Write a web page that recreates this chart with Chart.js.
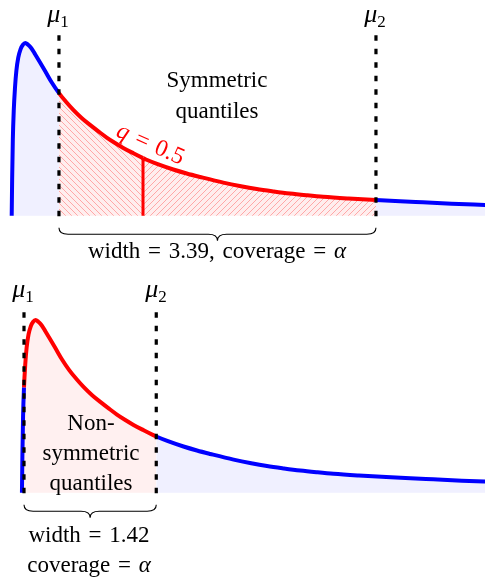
<!DOCTYPE html>
<html>
<head>
<meta charset="utf-8">
<script src="https://cdn.jsdelivr.net/npm/chart.js@4.4.1/dist/chart.umd.min.js"></script>
<style>
  body { margin: 0; width: 485px; height: 577px; background: #fff; position: relative; overflow: hidden;
         font-family: "Liberation Serif", "Times New Roman", serif; }
  canvas { position: absolute; left: 0; }
  .t { position: absolute; font-size: 23px; line-height: 1; color: #000; white-space: nowrap;
       transform: translate(-50%, -50%); }
  .t i { font-style: italic; }
  .mu { font-size: 26px; }
  .mu sub { font-size: 17px; vertical-align: -5px; line-height: 0; font-style: normal; }
  .eq { word-spacing: 2px; }
  .red { color: #f00; font-size: 24px; }
</style>
</head>
<body>
<canvas id="chartSym" width="485" height="272" style="top:0"></canvas>
<canvas id="chartAsym" width="485" height="305" style="top:272px"></canvas>

<div class="t mu" style="left:58px;top:14px"><i>μ</i><sub>1</sub></div>
<div class="t mu" style="left:375px;top:14px"><i>μ</i><sub>2</sub></div>
<div class="t" style="left:217px;top:79px">Symmetric</div>
<div class="t" style="left:217px;top:110px">quantiles</div>
<div class="t red eq" style="left:151px;top:143px;transform:translate(-50%,-50%) rotate(24deg)"><i>q</i> = 0.5</div>
<div class="t eq" id="symLabel" style="left:217px;top:250px"></div>

<div class="t mu" style="left:23px;top:289px"><i>μ</i><sub>1</sub></div>
<div class="t mu" style="left:156px;top:289px"><i>μ</i><sub>2</sub></div>
<div class="t" style="left:91px;top:422px">Non-</div>
<div class="t" style="left:91px;top:452px">symmetric</div>
<div class="t" style="left:91px;top:482px">quantiles</div>
<div class="t eq" id="asymLabel1" style="left:89px;top:534px"></div>
<div class="t eq" id="asymLabel2" style="left:89px;top:564px"></div>

<script>
// density curve (x in interval-width units, peak = 1)
const xs = [0, 0.005, 0.012, 0.022, 0.035, 0.05, 0.07, 0.095, 0.12, 0.145, 0.175, 0.21, 0.25, 0.30,
  0.36, 0.43, 0.505, 0.58, 0.658, 0.75, 0.837, 0.93, 1.015, 1.1, 1.192, 1.3, 1.403, 1.435, 1.56,
  1.726, 1.87, 2.012, 2.261, 2.45, 2.618, 2.8, 2.973, 3.15, 3.329, 3.6, 3.892, 4.15, 4.394, 4.7, 5.06];
const density = [0, 0.22, 0.44, 0.61, 0.74, 0.84, 0.915, 0.965, 0.99, 1.0, 0.99, 0.97, 0.935, 0.89,
  0.835, 0.77, 0.71, 0.66, 0.613, 0.565, 0.526, 0.487, 0.453, 0.423, 0.393, 0.362, 0.334, 0.326, 0.299,
  0.268, 0.245, 0.225, 0.192, 0.171, 0.155, 0.141, 0.129, 0.119, 0.110, 0.100, 0.091, 0.084, 0.078, 0.0705, 0.063];

const symBounds = [0.505, 3.892];
const symMedian = 1.403;
const symWidth = "3.39";
const asymBounds = [0.022, 1.435];
const asymWidth = "1.42";

const BLUE = "#0000ff";
const RED = "#ff0000";
const LAVENDER = "#f0f0ff";
const PINK = "#fff0f0";

document.getElementById("symLabel").innerHTML = `width = ${symWidth}, coverage = <i>α</i>`;
document.getElementById("asymLabel1").innerHTML = `width = ${asymWidth}`;
document.getElementById("asymLabel2").innerHTML = `coverage = <i>α</i>`;

function hatch(forward) {
  const s = 6;
  const c = document.createElement("canvas");
  c.width = s;
  c.height = s;
  const g = c.getContext("2d");
  g.fillStyle = "#ffeeee";
  g.fillRect(0, 0, s, s);
  g.strokeStyle = "rgba(255, 70, 70, 0.6)";
  g.lineWidth = 0.7;
  g.beginPath();
  for (let k = -1; k <= 1; k++) {
    if (forward) {
      g.moveTo(k * s, s);
      g.lineTo(k * s + s, 0);
    } else {
      g.moveTo(k * s, 0);
      g.lineTo(k * s + s, s);
    }
  }
  g.stroke();
  return g.createPattern(c, "repeat");
}

function inRange(ctx, a, b) {
  const x0 = xs[ctx.p0DataIndex];
  const x1 = xs[ctx.p1DataIndex];
  return x0 >= a - 1e-9 && x1 <= b + 1e-9;
}

function vline(x, y0, y1, color, width, dash) {
  return {
    data: [{ x, y: y1 }, { x, y: y0 }],
    borderColor: color,
    borderWidth: width,
    borderDash: dash || [],
    pointRadius: 0,
    fill: false,
    tension: 0,
  };
}

function drawBrace(ctx, x1, x2, y, h) {
  const xm = (x1 + x2) / 2;
  const r = h / 2;
  ctx.beginPath();
  ctx.moveTo(x1, y);
  ctx.quadraticCurveTo(x1, y + r, x1 + r * 1.4, y + r);
  ctx.lineTo(xm - r * 1.4, y + r);
  ctx.quadraticCurveTo(xm, y + r, xm, y + h);
  ctx.quadraticCurveTo(xm, y + r, xm + r * 1.4, y + r);
  ctx.lineTo(x2 - r * 1.4, y + r);
  ctx.quadraticCurveTo(x2, y + r, x2, y);
  ctx.stroke();
}

function bracePlugin(bounds) {
  return {
    id: "brace",
    afterDraw(chart) {
      const { ctx, scales } = chart;
      const base = scales.y.getPixelForValue(0);
      ctx.save();
      ctx.strokeStyle = "#000";
      ctx.lineWidth = 1.1;
      drawBrace(ctx, scales.x.getPixelForValue(bounds[0]), scales.x.getPixelForValue(bounds[1]), base + 12, 13);
      ctx.restore();
    },
  };
}

function makeChart(canvasId, cfg) {
  const points = xs.map((x, i) => ({ x, y: density[i] }));
  const [a, b] = cfg.bounds;
  const datasets = [
    vline(a, -0.015, 1.045, "#000", 3.2, [5.5, 8]),
    vline(b, -0.015, 1.045, "#000", 3.2, [5.5, 8]),
  ];
  if (cfg.median !== undefined) {
    const mi = xs.indexOf(cfg.median);
    datasets.push(vline(cfg.median, 0, density[mi], RED, 3));
  }
  datasets.push({
    data: points,
    borderColor: BLUE,
    backgroundColor: LAVENDER,
    borderWidth: 4,
    pointRadius: 0,
    fill: "origin",
    cubicInterpolationMode: "monotone",
    segment: {
      borderColor: (ctx) => (inRange(ctx, a, b) ? RED : undefined),
      backgroundColor: (ctx) => cfg.fillFor(ctx),
    },
  });

  return new Chart(document.getElementById(canvasId), {
    type: "line",
    data: { datasets },
    options: {
      responsive: false,
      animation: false,
      events: [],
      layout: { padding: { top: cfg.padTop, bottom: cfg.padBottom, left: 0, right: 0 } },
      plugins: { legend: { display: false }, tooltip: { enabled: false } },
      scales: {
        x: { type: "linear", display: false, min: cfg.xMin, max: cfg.xMax },
        y: { type: "linear", display: false, min: -0.03, max: 1.22 },
      },
    },
    plugins: [bracePlugin(cfg.bounds)],
  });
}

const hatchBack = hatch(false);
const hatchFwd = hatch(true);

makeChart("chartSym", {
  bounds: symBounds,
  median: symMedian,
  xMin: -0.125,
  xMax: 5.057,
  padTop: 5,
  padBottom: 51,
  fillFor: (ctx) => {
    if (inRange(ctx, symBounds[0], symMedian)) return hatchBack;
    if (inRange(ctx, symMedian, symBounds[1])) return hatchFwd;
    return undefined;
  },
});

makeChart("chartAsym", {
  bounds: asymBounds,
  xMin: -0.2344,
  xMax: 4.947,
  padTop: 10,
  padBottom: 79,
  fillFor: (ctx) => (inRange(ctx, asymBounds[0], asymBounds[1]) ? PINK : undefined),
});
</script>
</body>
</html>
